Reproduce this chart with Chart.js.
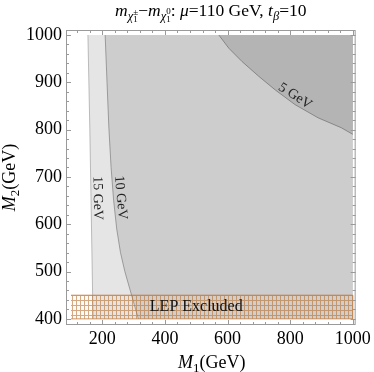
<!DOCTYPE html>
<html><head><meta charset="utf-8">
<script src="https://cdn.jsdelivr.net/npm/chart.js@4.4.1/dist/chart.umd.min.js"></script>
<style>html,body{margin:0;padding:0;background:#fff;overflow:hidden}#wrap{width:374px;height:372px;position:relative}</style>
</head><body><div id="wrap"><canvas id="c" width="374" height="372"></canvas></div>
<script>
// ---- data ----
const xTicks = [200, 400, 600, 800, 1000];
const yTicks = [400, 500, 600, 700, 800, 900, 1000];
const xMinorStep = 40, yMinorStep = 20;
const m1Domain = [100, 1000];
const m2Domain = [400, 1000];
// 15 GeV contour
const c15M1 = [154, 160, 165, 169, 171];
const c15M2 = [1000, 803, 609, 451, 400];
// 10 GeV contour
const c10M1 = [209, 215, 221, 228, 236, 246, 258, 272, 287, 302, 315];
const c10M2 = [1000, 900, 803, 720, 651, 590, 540, 500, 465, 430, 400];
// 5 GeV contour
const c5M1 = [572, 604, 646, 699, 752, 815, 889, 963, 1000];
const c5M2 = [1000, 972, 944, 913, 884, 853, 825, 804, 790];
// LEP excluded band
const lepM1 = [100, 1000];
const lepM2 = [400, 450];
const lepText = 'LEP Excluded';
const lepTextM1 = 500, lepTextM2 = 425;
// contour labels
const contourLabels = ['15 GeV', '10 GeV', '5 GeV'];
const labelM1 = [163.5, 237, 804];
const labelM2 = [655, 655, 859];

// ---- helpers ----
const SERIF = '"Liberation Serif", "Times New Roman", serif';
const pts = (xs, ys) => xs.map((x, i) => ({x, y: ys[i]}));
const L = m1Domain[0], R = m1Domain[1], B = m2Domain[0], T = m2Domain[1];
const reg15 = pts(c15M1, c15M2).concat([{x: R, y: B}, {x: R, y: T}]);
const reg10 = pts(c10M1, c10M2).concat([{x: R, y: B}, {x: R, y: T}]);
const reg5 = pts(c5M1, c5M2).concat([{x: R, y: T}]);
const lep = [{x: lepM1[0], y: lepM2[0]}, {x: lepM1[1], y: lepM2[0]}, {x: lepM1[1], y: lepM2[1]}, {x: lepM1[0], y: lepM2[1]}];

function hatchPattern(ctx) {
  const c = document.createElement('canvas'); c.width = 4; c.height = 5;
  const g = c.getContext('2d');
  g.fillStyle = 'rgba(240,215,190,0.12)'; g.fillRect(0, 0, 4, 5);
  g.fillStyle = 'rgba(185,115,50,0.6)';
  g.fillRect(0, 0, 4, 1); g.fillRect(0, 1, 1, 4);
  return ctx.createPattern(c, 'repeat');
}

function fnt(p) { return (p.i ? 'italic ' : '') + p.s + 'px ' + SERIF; }
function partW(ctx, p) {
  if (p.stack) return Math.max(...p.stack.map(q => partW(ctx, q)));
  ctx.font = fnt(p); return ctx.measureText(p.t).width;
}
function drawRich(ctx, parts, x, y, rot) {
  ctx.save(); ctx.translate(x, y); if (rot) ctx.rotate(rot);
  const w = parts.reduce((a, p) => a + partW(ctx, p), 0);
  let cx = -w / 2;
  ctx.textAlign = 'left'; ctx.textBaseline = 'alphabetic'; ctx.fillStyle = '#000';
  for (const p of parts) {
    const list = p.stack ? p.stack : [p];
    for (const q of list) { ctx.font = fnt(q); ctx.fillText(q.t, cx, q.dy || 0); }
    cx += partW(ctx, p);
  }
  ctx.restore();
}

const decor = {
  id: 'decor',
  afterDatasetsDraw(ch) {
    const {ctx, scales: {x, y}} = ch;
    ctx.save();
    const ang = [Math.PI * 89 / 180, Math.PI * 85 / 180, Math.PI * 33 / 180];
    ctx.font = '14px ' + SERIF; ctx.fillStyle = '#222';
    ctx.textAlign = 'center'; ctx.textBaseline = 'alphabetic';
    contourLabels.forEach((t, i) => {
      ctx.save();
      ctx.translate(x.getPixelForValue(labelM1[i]), y.getPixelForValue(labelM2[i]));
      ctx.rotate(ang[i]);
      ctx.fillText(t, 0, -3);
      ctx.restore();
    });
    ctx.font = '16px ' + SERIF; ctx.fillStyle = '#111'; ctx.textBaseline = 'middle';
    ctx.fillText(lepText, x.getPixelForValue(lepTextM1), y.getPixelForValue(lepTextM2));
    ctx.restore();
  },
  afterDraw(ch) {
    const {ctx, chartArea: a, scales: {x, y}} = ch;
    ctx.save();
    ctx.strokeStyle = '#9a9a9a'; ctx.lineWidth = 1;
    ctx.strokeRect(a.left + 0.5, a.top + 0.5, a.right - a.left - 1, a.bottom - a.top - 1);
    ctx.beginPath();
    for (let v = Math.ceil(x.min / xMinorStep) * xMinorStep; v <= x.max; v += xMinorStep) {
      const len = xTicks.includes(v) ? 5 : 3;
      const px = Math.round(x.getPixelForValue(v)) + 0.5;
      ctx.moveTo(px, a.bottom); ctx.lineTo(px, a.bottom - len);
      ctx.moveTo(px, a.top); ctx.lineTo(px, a.top + len);
    }
    for (let v = Math.ceil(y.min / yMinorStep) * yMinorStep; v <= y.max; v += yMinorStep) {
      const len = yTicks.includes(v) ? 5 : 3;
      const py = Math.round(y.getPixelForValue(v)) + 0.5;
      ctx.moveTo(a.left, py); ctx.lineTo(a.left + len, py);
      ctx.moveTo(a.right, py); ctx.lineTo(a.right - len, py);
    }
    ctx.stroke();
    ctx.restore();
    const F = 17.5, S = 12.5, SS = 9;
    drawRich(ctx, [
      {t: 'm', i: 1, s: F}, {t: 'χ', i: 1, s: S, dy: 4},
      {stack: [{t: '±', s: SS, dy: -1}, {t: '1', s: SS, dy: 6}]},
      {t: '−', s: F}, {t: 'm', i: 1, s: F}, {t: 'χ', i: 1, s: S, dy: 4},
      {stack: [{t: '0', s: SS, dy: -2}, {t: '1', s: SS, dy: 6}]},
      {t: ': ', s: F}, {t: 'μ', i: 1, s: F}, {t: '=110 GeV, ', s: F},
      {t: 't', i: 1, s: F}, {t: 'β', i: 1, s: S, dy: 4}, {t: '=10', s: F}
    ], (a.left + a.right) / 2, 16);
    drawRich(ctx, [{t: 'M', i: 1, s: 18}, {t: '1', s: 13, dy: 4}, {t: '(GeV)', s: 18}],
      (a.left + a.right) / 2 + 1, 368);
    drawRich(ctx, [{t: 'M', i: 1, s: 18}, {t: '2', s: 13, dy: 4}, {t: '(GeV)', s: 18}],
      15, (a.top + a.bottom) / 2, -Math.PI / 2);
  }
};

const canvas = document.getElementById('c');
const c2d = canvas.getContext('2d');
const lineDs = (data, color) => ({data, borderColor: color, borderWidth: 1, fill: false, pointRadius: 0, pointHitRadius: 0});
const regDs = (data, color) => ({data, backgroundColor: color, borderColor: 'rgba(0,0,0,0)', borderWidth: 1, fill: 'shape', pointRadius: 0, pointHitRadius: 0});

new Chart(canvas, {
  type: 'line',
  data: {
    datasets: [
      {data: lep, backgroundColor: hatchPattern(c2d), borderColor: 'rgba(185,115,50,0.75)', borderWidth: 1, fill: 'shape', pointRadius: 0, pointHitRadius: 0},
      lineDs(pts(c5M1, c5M2), 'rgba(110,110,110,0.7)'),
      lineDs(pts(c10M1, c10M2), 'rgba(120,120,120,0.65)'),
      lineDs(pts(c15M1, c15M2), 'rgba(140,140,140,0.55)'),
      regDs(reg5, '#b4b4b4'),
      regDs(reg10, '#cdcdcd'),
      regDs(reg15, '#e5e5e5')
    ]
  },
  options: {
    responsive: false, animation: false, devicePixelRatio: 1,
    layout: {padding: {top: 30, right: 16, left: 0, bottom: 0}},
    plugins: {legend: {display: false}, tooltip: {enabled: false}, title: {display: false}},
    elements: {line: {tension: 0}, point: {radius: 0}},
    scales: {
      x: {
        type: 'linear', min: 84, max: 1009,
        grid: {display: false, drawTicks: false}, border: {display: false},
        ticks: {font: {family: SERIF, size: 18}, color: '#000', padding: 3, maxRotation: 0, autoSkip: false, callback: v => String(v)},
        afterBuildTicks: s => { s.ticks = xTicks.map(v => ({value: v})); },
        afterFit: s => { s.height = 47; }
      },
      y: {
        type: 'linear', min: 387, max: 1010.6,
        grid: {display: false, drawTicks: false}, border: {display: false},
        ticks: {font: {family: SERIF, size: 18}, color: '#000', padding: 4, autoSkip: false, callback: v => String(v)},
        afterBuildTicks: s => { s.ticks = yTicks.map(v => ({value: v})); },
        afterFit: s => { s.width = 66; }
      }
    }
  },
  plugins: [decor]
});
</script></body></html>
